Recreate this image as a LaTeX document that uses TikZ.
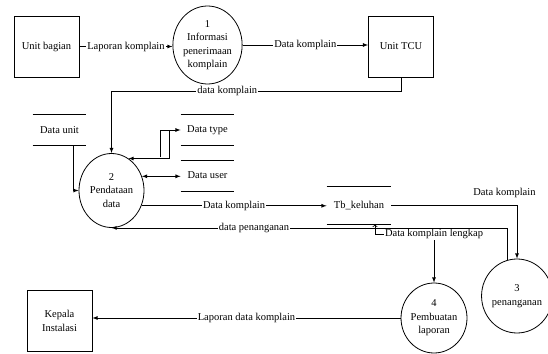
\documentclass[tikz,border=0pt]{standalone}
\usepackage{fontspec}
\setmainfont{Liberation Serif}
\usetikzlibrary{shapes.geometric, arrows}

\tikzset{
	entity/.style={draw, minimum width=65pt, minimum height=61pt, align=center, inner sep=1pt},
	proses/.style={draw, ellipse, minimum width=65pt, minimum height=74pt, align=center, inner sep=0pt},
	store/.style={minimum width=53pt, minimum height=30pt, inner sep=0pt},
	flowlabel/.style={fill=white, inner sep=1pt},
	flow/.style={->, >=latex}
}

\begin{document}
\begin{tikzpicture}[x=1pt, y=-1pt, line width=0.8pt, font=\fontsize{10.5}{13.5}\selectfont]
	\useasboundingbox (0,0) rectangle (548,353);
%\begin{entities}
	\node[entity] (bagian) at (46.5,46.5) {Unit bagian};
	\node[entity] (unitx) at (401,46.5) {Unit TCU};
	\node[entity] (kepala) at (59.5,321) {Kepala\\Instalasi};
%\end{entities}
	\node[proses, minimum height=78pt] (p1) at (207.5,45) {1\\Informasi\\penerimaan\\komplain};
	\node[proses] (p2) at (111.5,190.5) {2\\Pendataan\\data};
	\node[proses, minimum width=61pt] (p3) at (517,296) {3\\penanganan};
	\node[proses, minimum height=70pt] (p4) at (434,318) {4\\Pembuatan\\laporan};
%\begin{stores}
	\node[store] (dunit) at (59.5,130) {Data unit};
	\draw (dunit.north west) -- (dunit.north east);
	\draw (dunit.south west) -- (dunit.south east);
	\node[store] (dtype) at (207.5,130) {Data type};
	\draw (dtype.north west) -- (dtype.north east);
	\draw (dtype.south west) -- (dtype.south east);
	\node[store] (duser) at (207.5,175.5) {Data user};
	\draw (duser.north west) -- (duser.north east);
	\draw (duser.south west) -- (duser.south east);
	\node[store, minimum width=64pt, minimum height=37pt] (tb) at (359,205.5) {Tb\_keluhan};
	\draw (tb.north west) -- (tb.north east);
	\draw (tb.south west) -- (tb.south east);
%\end{stores}
	\draw[flow] (bagian.east) -- node[flowlabel] {Laporan komplain} (bagian.east -| p1.west);
	\draw[flow] (p1.east) -- node[flowlabel] {Data komplain} (p1.east -| unitx.west);
	\draw[flow] (unitx.south) -- ++(0,13.5) -| node[flowlabel, pos=0.3] {data komplain} (p2.north);
	\draw[flow] ([xshift=13.5pt]dunit.south) |- (p2.west);
	\draw[<->, >=latex] (p2.62) -- ++(41,0) |- (dtype.west);
	\draw (160,157) |- (172,130);
	\draw[<->, >=latex] (p2.25) -- (p2.25 -| duser.west);
	\draw[flow] (p2.-27) -- node[flowlabel] {Data komplain} (p2.-27 -| tb.west);
	\draw[flow] (tb.east) -| node[pos=0.45, above=4pt] {Data komplain} (p3.north);
	\draw[flow] (p3.105) |- node[flowlabel, pos=0.82] {data penanganan} (p2.south);
	\draw[to-latex] ([xshift=16pt]tb.south) -- ++(0,10) -| node[flowlabel, pos=0.5] {Data komplain lengkap} (p4.north);
	\draw[flow] (p4.west) -- node[flowlabel] {Laporan data komplain} (p4.west -| kepala.east);
\end{tikzpicture}
\end{document}
